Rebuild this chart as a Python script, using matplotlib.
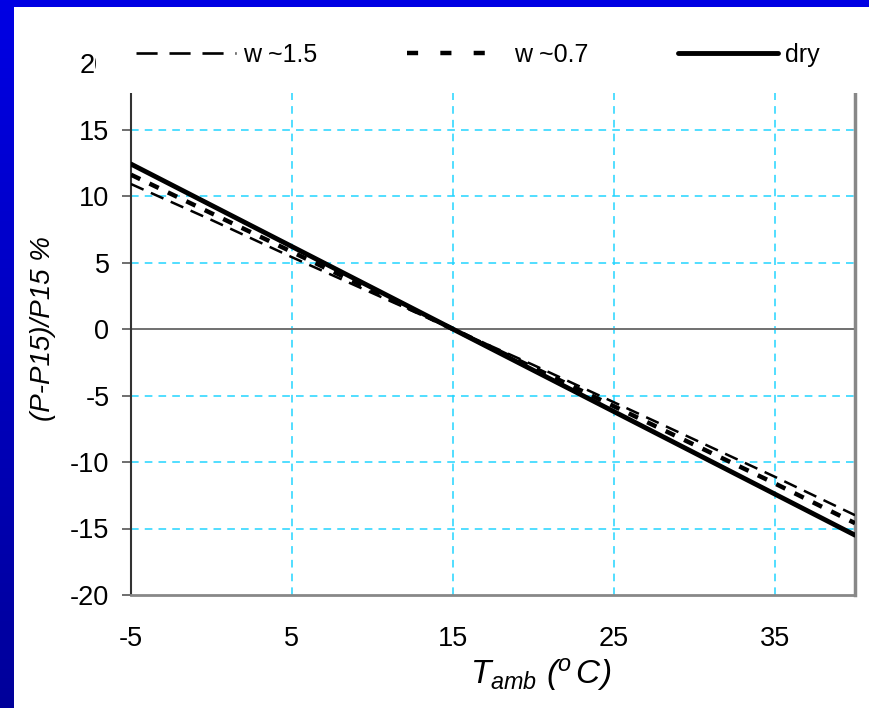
import numpy as np
import matplotlib
matplotlib.use("Agg")
import matplotlib.pyplot as plt
from matplotlib.patches import Rectangle
from matplotlib.lines import Line2D
from matplotlib.colors import LinearSegmentedColormap

plt.rcParams['font.family'] = ['Liberation Sans', 'DejaVu Sans']
plt.rcParams['axes.unicode_minus'] = False
plt.rcParams['mathtext.fontset'] = 'custom'
plt.rcParams['mathtext.it'] = 'Liberation Sans:italic'
plt.rcParams['mathtext.rm'] = 'Liberation Sans:italic'
plt.rcParams['mathtext.sf'] = 'Liberation Sans:italic'

# data
t_amb = [-5, 0, 5, 10, 15, 20, 25, 30, 35, 40]
p_w15 = [10.9, 8.2, 5.4, 2.7, 0.0, -2.7, -5.5, -8.3, -11.1, -14.0]
p_w07 = [11.6, 8.7, 5.8, 2.9, 0.0, -2.9, -5.8, -8.7, -11.6, -14.6]
p_dry = [12.4, 9.3, 6.2, 3.1, 0.0, -3.1, -6.2, -9.3, -12.4, -15.5]
labels = ["w ~1.5", "w ~0.7", "dry"]
x_ticks = [-5, 5, 15, 25, 35]
y_ticks = [-20, -15, -10, -5, 0, 5, 10, 15, 20]

W, H = 869, 708
fig = plt.figure(figsize=(W / 100, H / 100), dpi=100)

# blue slide background, gradient on the left band
bg = fig.add_axes([0, 0, 1, 1], zorder=-10)
grad = np.linspace(0, 1, 256).reshape(-1, 1)
cmap = LinearSegmentedColormap.from_list("b", ["#0000e4", "#00009a"])
bg.imshow(grad, aspect="auto", cmap=cmap, extent=[0, 1, 0, 1], origin="upper")
bg.set_xlim(0, 1)
bg.set_ylim(0, 1)
bg.axis("off")
bg.add_patch(Rectangle((14 / W, 0), 1 - 14 / W, 1 - 7 / H, transform=bg.transAxes,
                       facecolor="white", edgecolor="none"))

ax = fig.add_axes([131 / W, 1 - 595 / H, (855 - 131) / W, (595 - 63) / H])
ax.set_facecolor("white")

grid_c = "#22d4ff"
for xv in x_ticks[1:]:
    ax.axvline(xv, color=grid_c, lw=1.1, ls=(0, (5, 4)), zorder=1)
for yv in y_ticks:
    if yv not in (0, -20, 20):
        ax.axhline(yv, color=grid_c, lw=1.1, ls=(0, (5, 4)), zorder=1)
ax.axhline(0, color="#707070", lw=1.4, zorder=1)

ax.plot(t_amb, p_w15, color="black", lw=1.8, ls=(0, (5.5, 3.2)), zorder=3)
ax.plot(t_amb, p_w07, color="black", lw=3.2, ls=(0, (2.3, 2.3)), zorder=3)
ax.plot(t_amb, p_dry, color="black", lw=3.5, zorder=4, solid_capstyle="round")

ax.set_xlim(-5, 40)
ax.set_ylim(-20, 20)
ax.set_xticks(x_ticks)
ax.set_yticks(y_ticks)
ax.tick_params(axis="x", length=0, pad=22, labelsize=19.5)
ax.tick_params(axis="y", length=6.5, width=1.2, color="#555555", pad=9, labelsize=19.5)

ax.spines["top"].set_visible(False)
ax.spines["left"].set_color("#333333")
ax.spines["left"].set_linewidth(1.5)
ax.spines["bottom"].set_color("#888888")
ax.spines["bottom"].set_linewidth(2)
ax.spines["right"].set_color("#888888")
ax.spines["right"].set_linewidth(2.5)

ax.set_ylabel("(P-P15)/P15 %", fontsize=20, style="italic")
ax.yaxis.set_label_coords(-0.104, 0.5)
ax.set_xlabel(r"$T_{amb}\ (^{o}\,C)$", fontsize=24)
ax.xaxis.set_label_coords(0.566, -0.115)

# white strip behind the legend, covering the top of the axes
fig.patches.append(Rectangle((96 / W, 1 - 93 / H), 1 - 96 / W, (93 - 17) / H,
                             transform=fig.transFigure, facecolor="white",
                             edgecolor="none", zorder=1))

handles = [
    Line2D([], [], color="black", lw=1.9, ls=(0, (8, 4.5))),
    Line2D([], [], color="black", lw=3.2, ls=(0, (2.5, 5))),
    Line2D([], [], color="black", lw=3.5, solid_capstyle="round"),
]
starts = [136, 407, 678]
for h, lab, x0 in zip(handles, labels, starts):
    fig.legend([h], [lab], loc="center left",
               bbox_to_anchor=(x0 / W, 1 - 55 / H), frameon=False,
               fontsize=18, handlelength=4.0, handletextpad=0.3,
               borderpad=0, borderaxespad=0)

fig.savefig("out.png", dpi=100)
